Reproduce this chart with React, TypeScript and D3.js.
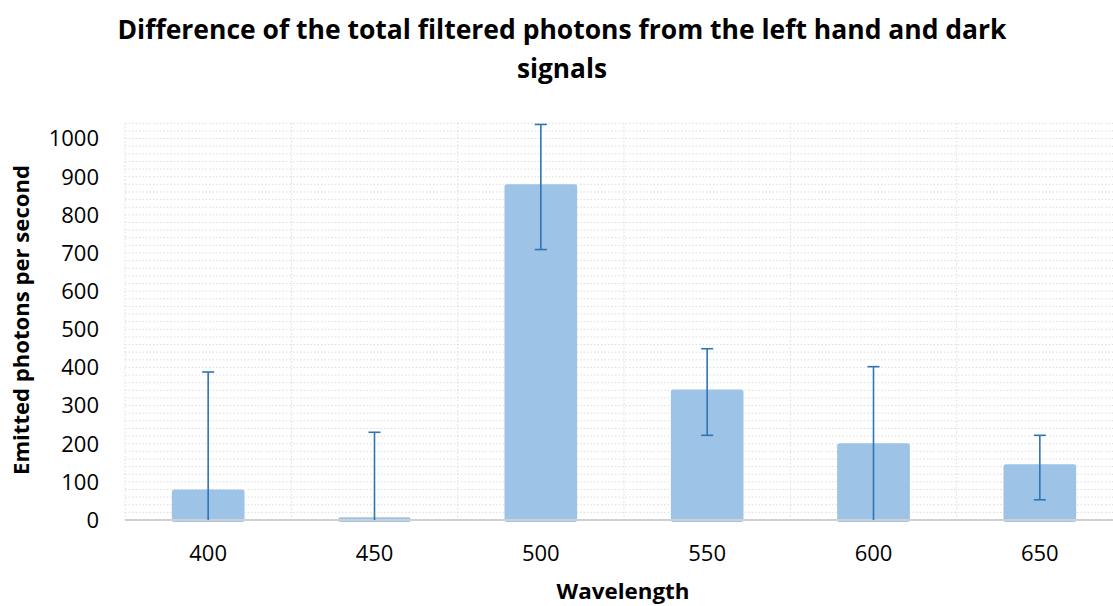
import React from "react";
import * as d3 from "d3";

const categories = ["400", "450", "500", "550", "600", "650"];
const values = [80, 7, 880, 342, 201, 146];
const errPlus = [308, 223, 157, 107, 201, 76];
const errMinus = [308, 223, 171, 120, 201, 93];
const yTicks = [0, 100, 200, 300, 400, 500, 600, 700, 800, 900, 1000];
const yMax = 1040;
const minorStep = 20;

const W = 1113;
const H = 606;
const left = 125;
const right = 1123;
const top = 123.3;
const bottom = 520;

export default function App() {
  const x = d3.scaleBand<string>().domain(categories).range([left, right]).paddingInner(0.563).paddingOuter(0.2815);
  const band = d3.scaleBand<string>().domain(categories).range([left, right]);
  const y = d3.scaleLinear().domain([0, yMax]).range([bottom, top]);
  const minor = d3.range(minorStep, yMax + 0.001, minorStep);
  const font = "'Open Sans', 'DejaVu Sans', sans-serif";
  const grid = "#dcdcdc";
  const capHalf = 6;
  return (
    <svg width={W} height={H} style={{ position: "absolute", left: 0, top: 0 }} viewBox={`0 0 ${W} ${H}`}>
      <rect x={0} y={0} width={W} height={H} fill="#fff" />
      <text x={562} y={39} textAnchor="middle" fontFamily={font} fontWeight={700} fontSize={26} textLength={889} lengthAdjust="spacingAndGlyphs" fill="#000">
        Difference of the total filtered photons from the left hand and dark
      </text>
      <text x={562} y={78} textAnchor="middle" fontFamily={font} fontWeight={700} fontSize={26} textLength={90} lengthAdjust="spacingAndGlyphs" fill="#000">
        signals
      </text>
      {minor.map((v) => (
        <line key={"h" + v} x1={left} x2={right} y1={y(v)} y2={y(v)} stroke={grid} strokeWidth={1} strokeDasharray="1.5 2" />
      ))}
      {categories.map((c) => (
        <line key={"v" + c} x1={band(c)!} x2={band(c)!} y1={top} y2={bottom} stroke={grid} strokeWidth={1} strokeDasharray="1.5 2" />
      ))}
      <line x1={right} x2={right} y1={top} y2={bottom} stroke={grid} strokeWidth={1} strokeDasharray="1.5 2" />
      {categories.map((c, i) => (
        <rect key={"b" + c} x={x(c)!} y={y(values[i])} width={x.bandwidth()} height={y(0) - y(values[i]) + 2} rx={2.5} fill="#9dc3e6" />
      ))}
      <line x1={left} x2={right} y1={bottom} y2={bottom} stroke="#d0d0d0" strokeWidth={1.8} />
      {categories.map((c, i) => {
        const cx = x(c)! + x.bandwidth() / 2;
        const hi = values[i] + errPlus[i];
        const loRaw = values[i] - errMinus[i];
        const lo = Math.max(0, loRaw);
        return (
          <g key={"e" + c} stroke="#2e75b6" strokeWidth={1.6}>
            <line x1={cx} x2={cx} y1={y(hi)} y2={y(lo)} />
            <line x1={cx - capHalf} x2={cx + capHalf} y1={y(hi)} y2={y(hi)} />
            {loRaw > 0 && <line x1={cx - capHalf} x2={cx + capHalf} y1={y(lo)} y2={y(lo)} />}
          </g>
        );
      })}
      {yTicks.map((t) => (
        <text key={"yt" + t} x={99} y={y(t)} dy="0.36em" textAnchor="end" fontFamily={font} fontSize={22} fill="#000">
          {t}
        </text>
      ))}
      {categories.map((c) => (
        <text key={"xt" + c} x={band(c)! + band.bandwidth() / 2} y={561} textAnchor="middle" fontFamily={font} fontSize={22} fill="#000">
          {c}
        </text>
      ))}
      <text transform={`translate(29, 320) rotate(-90)`} textAnchor="middle" fontFamily={font} fontWeight={700} fontSize={21} textLength={310} lengthAdjust="spacingAndGlyphs" fill="#000">
        Emitted photons per second
      </text>
      <text x={623} y={599} textAnchor="middle" fontFamily={font} fontWeight={700} fontSize={21} textLength={133} lengthAdjust="spacingAndGlyphs" fill="#000">
        Wavelength
      </text>
    </svg>
  );
}
